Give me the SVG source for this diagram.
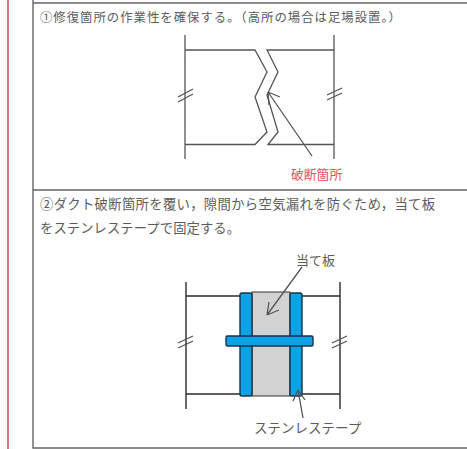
<svg xmlns="http://www.w3.org/2000/svg" width="467" height="449" viewBox="0 0 467 449">
<style>
text{font-family:"Noto Sans CJK JP","Noto Sans",sans-serif;font-size:13px;fill:#5c5c5c}
.l{fill:none;stroke:#555;stroke-width:1.3}
.d{fill:none;stroke:#2b2b2b;stroke-width:1.4}
.b{fill:#0ba3e6;stroke:#14344c;stroke-width:1.4}
</style>
<rect width="467" height="449" fill="#fff"/>
<g id="page-frame">
<line x1="8" y1="0" x2="8" y2="449" stroke="#c0485c" stroke-width="1.5"/>
<path d="M33 0V448H467M33 3H467M33 190H467" fill="none" stroke="#666" stroke-width="1.4"/>
</g>
<g id="step1-text"><text x="40" y="22" style="font-size:12.400px" textLength="361" lengthAdjust="spacing">①修復箇所の作業性を確保する。（高所の場合は足場設置。）</text></g>
<g id="step1-duct">
<path class="l" d="M185 35V159M334 35V159M185 50H255L267 72L255 97L267 132L255 144.500H185M334 50H267L278 72L267 95L278 132L268 144.500H334"/>
<path class="l" d="M178 97L193 89M178 102L193 94M327 95L342 88M327 100L342 93"/>
</g>
<g id="step1-label"><text x="291" y="179" style="fill:#e8505f;font-size:12.800px">破断箇所</text></g>
<g id="step2-text">
<text x="40" y="209" style="font-size:13.300px" textLength="395" lengthAdjust="spacing">②ダクト破断箇所を覆い，隙間から空気漏れを防ぐため，当て板</text>
<text x="40" y="233" style="font-size:13.300px" textLength="200" lengthAdjust="spacing">をステンレステープで固定する。</text>
</g>
<g id="step2-duct">
<path class="d" d="M186 282V409M340 282V409M186 296H241M302 296H340M186 394H241M302 394H340"/>
<path class="l" d="M178 343L193 336M178 348L193 341M332 343L347 336M332 348L347 341"/>
<rect x="252" y="292" width="38" height="104" fill="#d2d2d2" stroke="#333" stroke-width="1"/>
<rect class="b" x="240" y="293" width="12" height="103" rx="2"/>
<rect class="b" x="290" y="293" width="12" height="103" rx="2"/>
<rect class="b" x="226" y="336" width="87" height="10" rx="1.500"/>
</g>
<g id="step2-labels">
<text x="296" y="265">当て板</text>
<text x="254" y="433" style="font-size:13.500px">ステンレステープ</text>
</g>
<g id="connectors">
<path class="l" d="M312 156L268 92M268 92L269 105M268 92L280 97"/>
<path class="l" d="M302 267L267 315M267 315L279 310M267 315L269 302"/>
<path class="l" d="M303 418L298 390M298 390L293 401M298 390L305 400"/>
</g>
</svg>
